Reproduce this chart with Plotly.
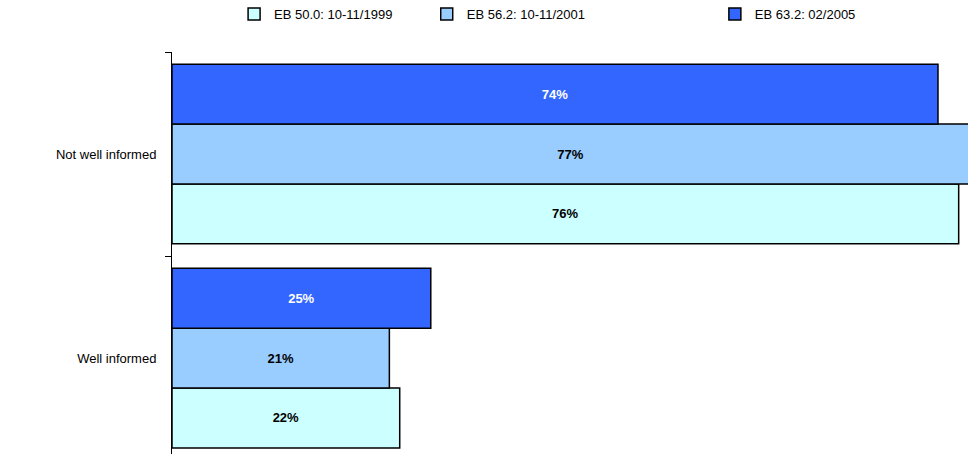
import plotly.graph_objects as go

categories = ["Well informed", "Not well informed"]
series_names = ["EB 50.0: 10-11/1999", "EB 56.2: 10-11/2001", "EB 63.2: 02/2005"]
values_1999 = [22, 76]
values_2001 = [21, 77]
values_2005 = [25, 74]
colors = ["#CCFFFF", "#99CCFF", "#3366FF"]
text_colors = ["#000000", "#000000", "#FFFFFF"]
legend_ids = ["legend", "legend2", "legend3"]
legend_x = [0.078, 0.320, 0.682]

fig = go.Figure()
for name, vals, col, tcol, lg in zip(series_names, [values_1999, values_2001, values_2005],
                                     colors, text_colors, legend_ids):
    fig.add_trace(go.Bar(
        y=categories, x=vals, name=name, orientation="h",
        marker=dict(color=col, line=dict(color="#000000", width=1.5)),
        text=[f"{v}%" for v in vals], textposition="inside",
        insidetextanchor="middle", textangle=0,
        textfont=dict(family="Liberation Sans, Arial", size=13, color=tcol, weight="bold"),
        legend=lg, cliponaxis=True,
    ))

legend_common = dict(orientation="h", yanchor="middle", xanchor="left",
                     font=dict(family="Liberation Sans, Arial", size=13, color="#000000"),
                     bgcolor="rgba(0,0,0,0)", itemwidth=30, tracegroupgap=0)
layout_legends = {}
for lg, lx in zip(legend_ids, legend_x):
    layout_legends[lg] = dict(legend_common, x=lx, yref="container", y=0.969)

fig.update_layout(
    width=968, height=454,
    margin=dict(l=172, r=0, t=52, b=0),
    barmode="group", bargap=0.12, bargroupgap=0,
    plot_bgcolor="#FFFFFF", paper_bgcolor="#FFFFFF",
    showlegend=True,
    font=dict(family="Liberation Sans, Arial", size=13, color="#000000"),
    xaxis=dict(range=[0, 76.9], visible=False, fixedrange=True),
    yaxis=dict(range=[-0.47, 1.5], showline=True, linecolor="#000000", linewidth=1,
               ticks="outside", ticklen=6, tickcolor="#000000", tickson="boundaries",
               ticklabelstandoff=12, showgrid=False, zeroline=False,
               tickfont=dict(family="Liberation Sans, Arial", size=13, color="#000000")),
    **layout_legends,
)

fig.write_html("out.html")
